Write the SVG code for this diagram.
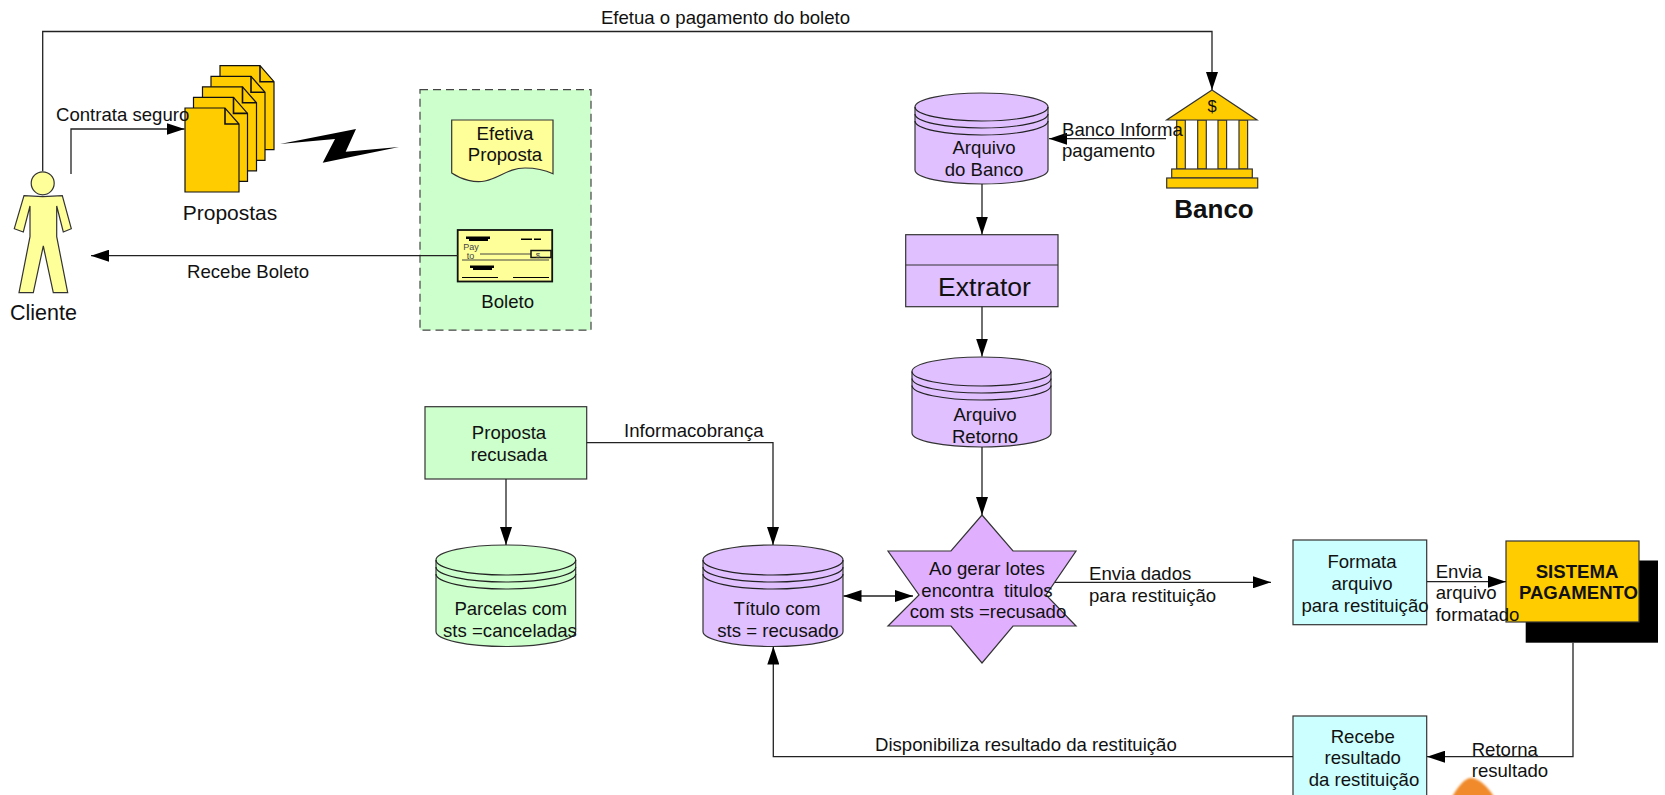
<svg xmlns="http://www.w3.org/2000/svg" width="1665" height="795" viewBox="0 0 1665 795">
<style>
text{font-family:"Liberation Sans",Arial,sans-serif;font-size:18.600px;fill:#111;text-anchor:middle}
.l{text-anchor:start}
.s{fill:none;stroke:#222;stroke-width:1.3}
.n{stroke:#333;stroke-width:1.2}
.c{fill:none;stroke:#222;stroke-width:1.2}
.p{fill:#e0c0ff}
.h{fill:#000}
.b{font-weight:bold}
</style>
<defs>
<marker id="a" markerUnits="userSpaceOnUse" markerWidth="18" markerHeight="12" refX="18" refY="6" orient="auto"><path d="M0 0L18 6L0 12Z" fill="#000"/></marker>
<marker id="b" markerUnits="userSpaceOnUse" markerWidth="18" markerHeight="12" refX="0" refY="6" orient="auto"><path d="M18 0L0 6L18 12Z" fill="#000"/></marker>
<path id="doc" d="M0 0H40L54 16V84H0Z" fill="#ffcc00" stroke="#111" stroke-width="1.2"/>
<path id="fold" d="M40 0V16H54" fill="none" stroke="#111" stroke-width="1.6"/>
<filter id="soft"><feGaussianBlur stdDeviation="1"/></filter>
</defs>
<rect width="1665" height="795" fill="#fff"/>
<g id="orange"><path d="M1452 797C1458 786 1465 778 1471 778C1478 778 1488 786 1494 797Z" fill="#f08a2c" filter="url(#soft)"/></g>
<g id="cliente">
<circle cx="42.700" cy="183.300" r="11.500" fill="#ffff99" class="n"/>
<path d="M24 195.700L42.700 196.700L62.300 195.700L71.300 228.700L63.300 232L56.700 206V236.700L67.700 292.700H53.300L43.300 246L33.300 292.700H19L30 236.700V206L23.300 232L14.300 228.700Z" fill="#ffff99" class="n"/>
<text x="43.500" y="320" style="font-size:21.500px">Cliente</text>
</g>
<g id="propostas">
<use href="#doc" x="220" y="65.700"/><use href="#fold" x="220" y="65.700"/>
<use href="#doc" x="211" y="76.300"/><use href="#fold" x="211" y="76.300"/>
<use href="#doc" x="202.500" y="86.800"/><use href="#fold" x="202.500" y="86.800"/>
<use href="#doc" x="193.500" y="97.400"/><use href="#fold" x="193.500" y="97.400"/>
<use href="#doc" x="185" y="108"/><use href="#fold" x="185" y="108"/>
<text x="230" y="219.500" style="font-size:21px">Propostas</text>
</g>
<g id="raio"><path d="M280 144L356 129L345.700 151.700L399 147L322.700 162.700L335 139Z" fill="#000"/></g>
<g id="grupo-verde">
<rect x="420" y="89.700" width="171" height="240.500" fill="#ccffcc" stroke="#444" stroke-width="1.200" stroke-dasharray="8 5"/>
</g>
<g id="efetiva-proposta">
<path d="M451.700 120H553V173.700C545 170 535 168 525 168C508 168 500 178 485 181C475 183 462 180 451.700 173Z" fill="#ffff99" class="n"/>
<text x="505" y="140">Efetiva</text><text x="505" y="161">Proposta</text>
</g>
<g id="boleto">
<rect x="457.700" y="230" width="94.500" height="51.500" fill="#ffff99" stroke="#111" stroke-width="1.800"/>
<g class="h">
<rect x="466" y="236.500" width="24" height="2.500"/><rect x="469" y="239" width="19" height="2"/><rect x="521" y="238.500" width="11" height="1.500"/><rect x="534" y="238.500" width="7" height="1.500"/>
<rect x="470" y="265.500" width="24" height="2.500"/><rect x="473" y="268" width="19" height="2"/>
<rect x="462" y="277" width="36" height="1"/><rect x="513" y="277" width="36" height="1"/>
</g>
<path d="M480 254H531M462 260H549" stroke="#444" stroke-width="1" fill="none"/>
<rect x="531" y="250.500" width="20" height="7" fill="#ffff99" stroke="#111" stroke-width="1.500"/>
<text x="538" y="257.500" style="font-size:8px;fill:#444">$</text>
<text x="471" y="250" style="font-size:9px;fill:#444">Pay</text><text x="470.500" y="259" style="font-size:9px;fill:#444">to</text>
<text x="507.700" y="308">Boleto</text>
</g>
<g id="banco">
<path d="M1176.700 120H1247V169H1176.700Z" fill="#fff"/>
<g fill="#ffcc00" class="n">
<rect x="1176.700" y="120" width="8.600" height="49"/><rect x="1197.700" y="120" width="8.600" height="49"/><rect x="1218" y="120" width="8.600" height="49"/><rect x="1239" y="120" width="8.600" height="49"/>
<path d="M1212 90L1257 120H1166.700Z"/>
<rect x="1171.700" y="169" width="80.600" height="9"/><rect x="1166.700" y="178" width="91" height="10"/>
</g>
<text x="1212" y="111.500" style="font-size:16.500px">$</text>
<text x="1214" y="218" class="b" style="font-size:26px">Banco</text>
</g>
<g id="arquivo-banco">
<path d="M915 107A66.500 14 0 0 1 1048 107V170A66.500 14 0 0 1 915 170Z" class="p n"/>
<path d="M915 107A66.500 14 0 0 0 1048 107M915 114A66.500 14 0 0 0 1048 114M915 121A66.500 14 0 0 0 1048 121" class="c"/>
<text x="984" y="154">Arquivo</text><text x="984" y="175.700">do Banco</text>
</g>
<g id="extrator">
<rect x="905.700" y="234.700" width="152.300" height="72" class="p n"/>
<path d="M905.700 265H1058" stroke="#333" stroke-width="1.200"/>
<text x="984.500" y="296" style="font-size:26.500px">Extrator</text>
</g>
<g id="arquivo-retorno">
<path d="M912 371.500A69.500 14.500 0 0 1 1051 371.500V433A69.500 14 0 0 1 912 433Z" class="p n"/>
<path d="M912 371.500A69.500 14.500 0 0 0 1051 371.500M912 378.500A69.500 14.500 0 0 0 1051 378.500M912 385.500A69.500 14.500 0 0 0 1051 385.500" class="c"/>
<text x="985" y="420.700">Arquivo</text><text x="985" y="443">Retorno</text>
</g>
<g id="star">
<path d="M982 515L1013 551H1076L1046 595L1076 626H1013L982 663L951 626H888L919 595L888 551H951Z" fill="#e0b0ff" stroke="#333" stroke-width="1.200"/>
<text x="987" y="575">Ao gerar lotes</text><text x="987" y="596.700">encontra &#160;titulos</text><text x="988" y="617.700">com sts =recusado</text>
</g>
<g id="titulo">
<path d="M703 560A70 15 0 0 1 843 560V631.500A70 15 0 0 1 703 631.500Z" class="p n"/>
<path d="M703 560A70 15 0 0 0 843 560M703 567A70 15 0 0 0 843 567M703 574A70 15 0 0 0 843 574" class="c"/>
<text x="777" y="615">Título com</text><text x="778" y="637">sts = recusado</text>
</g>
<g id="proposta-recusada">
<rect x="425" y="406.700" width="161.700" height="72.300" fill="#ccffcc" class="n"/>
<text x="509" y="439">Proposta</text><text x="509" y="461">recusada</text>
</g>
<g id="parcelas">
<path d="M436 560A69.800 15 0 0 1 575.700 560V631.500A69.800 15 0 0 1 436 631.500Z" fill="#ccffcc" class="n"/>
<path d="M436 560A69.800 15 0 0 0 575.700 560M436 567A69.800 15 0 0 0 575.700 567M436 574A69.800 15 0 0 0 575.700 574" class="c"/>
<text x="510.700" y="615">Parcelas com</text><text x="510" y="636.700">sts =canceladas</text>
</g>
<g id="formata">
<rect x="1293" y="540" width="133.700" height="84.700" fill="#ccffff" class="n"/>
<text x="1362" y="567.700">Formata</text><text x="1362" y="590">arquivo</text><text x="1365" y="612">para restituição</text>
</g>
<g id="sistema">
<rect x="1525.700" y="560.500" width="132.300" height="82.200" fill="#000"/>
<rect x="1506" y="541" width="133" height="81" fill="#ffcc00" class="n"/>
<text x="1577" y="577.700" class="b">SISTEMA</text><text x="1578.500" y="599" class="b">PAGAMENTO</text>
</g>
<g id="recebe">
<rect x="1293" y="716" width="133.700" height="85" fill="#ccffff" class="n"/>
<text x="1362.700" y="742.700">Recebe</text><text x="1362.700" y="764">resultado</text><text x="1364" y="785.700">da restituição</text>
</g>
<g id="connectors" class="s">
<path d="M42.700 171V31.500H1212V90" marker-end="url(#a)"/>
<path d="M71 174V129H184.500" marker-end="url(#a)"/>
<path d="M458 255.700H91" marker-end="url(#a)"/>
<path d="M1166 138.700H1049" marker-end="url(#a)"/>
<path d="M982 184V234.500" marker-end="url(#a)"/>
<path d="M982 306.700V356.500" marker-end="url(#a)"/>
<path d="M982 447V515" marker-end="url(#a)"/>
<path d="M586.700 442.700H773V545" marker-end="url(#a)"/>
<path d="M506 479V545" marker-end="url(#a)"/>
<path d="M843.500 596H913" marker-start="url(#b)" marker-end="url(#a)"/>
<path d="M1055 582.300H1271" marker-end="url(#a)"/>
<path d="M1427 581.700H1506" marker-end="url(#a)"/>
<path d="M1573 642.700V756.700H1427" marker-end="url(#a)"/>
<path d="M1293 756.700H773.300V646.500" marker-end="url(#a)"/>
</g>
<g id="labels">
<text x="725.500" y="24">Efetua o pagamento do boleto</text>
<text class="l" x="56" y="121">Contrata seguro</text>
<text class="l" x="187" y="277.700">Recebe Boleto</text>
<text class="l" x="1062" y="136">Banco Informa</text>
<text class="l" x="1062" y="157">pagamento</text>
<text class="l" x="624" y="437">Informacobrança</text>
<text class="l" x="1089" y="580">Envia dados</text>
<text class="l" x="1089" y="602">para restituição</text>
<text class="l" x="1435.700" y="577.700">Envia</text>
<text class="l" x="1435.700" y="598.500">arquivo</text>
<text class="l" x="1435.700" y="620.700">formatado</text>
<text class="l" x="875" y="751">Disponibiliza resultado da restituição</text>
<text class="l" x="1471.700" y="755.700">Retorna</text>
<text class="l" x="1471.700" y="776.700">resultado</text>
</g>
</svg>
